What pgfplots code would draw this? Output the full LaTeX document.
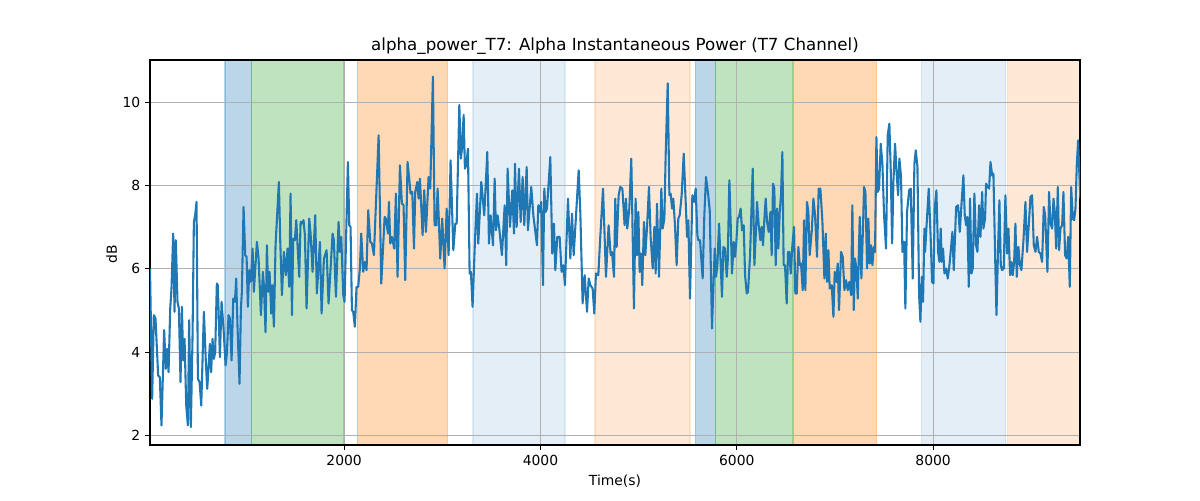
\documentclass[border=0pt]{standalone}
\usepackage{fontspec}
\setmainfont{DejaVu Sans}
\usepackage{pgfplots}
\pgfplotsset{compat=1.18}
\definecolor{tabblue}{HTML}{1F77B4}
\definecolor{taborange}{HTML}{FF7F0E}
\definecolor{tabgreen}{HTML}{2CA02C}
\definecolor{gridgray}{HTML}{B0B0B0}
\begin{document}
\begin{tikzpicture}
\path (0pt,0pt) rectangle (864pt,360pt);
\begin{axis}[
  at={(108pt,39.6pt)}, anchor=south west,
  scale only axis, width=669.6pt, height=277.2pt,
  xmin=22, xmax=9496, ymin=1.77, ymax=11.02,
  set layers,
  axis line style={black, line width=0.8pt},
  tick align=outside, tick pos=left,
  major tick length=3.5pt,
  every tick/.style={black, line width=0.8pt},
  grid=major, major grid style={gridgray, line width=0.8pt},
  xtick={2000,4000,6000,8000}, ytick={2,4,6,8,10},
  /pgf/number format/1000 sep={},
  /pgf/number format/assume math mode=true,
  tick label style={font=\fontsize{10}{12}\selectfont},
  title={alpha\_power\_T7: Alpha Instantaneous Power (T7 Channel)},
  every axis title/.style={at={(axis description cs:0.5,1.02345)}, anchor=base, font=\fontsize{12}{14.4}\selectfont},
  xlabel={Time(s)},
  every axis x label/.style={at={(axis description cs:0.5,-0.1039)}, anchor=base, font=\fontsize{10}{12}\selectfont},
  ylabel={dB},
  every axis y label/.style={at={(axis description cs:-0.0356,0.496)}, rotate=90, anchor=base, font=\fontsize{10}{12}\selectfont},
]
% shaded intervals
\addplot[on layer=axis background, fill=tabblue, fill opacity=0.3, draw=tabblue, draw opacity=0.3, line width=1pt] coordinates {(785,1.77) (1056,1.77) (1056,11.02) (785,11.02) (785,1.77)};
\addplot[on layer=axis background, fill=tabgreen, fill opacity=0.3, draw=tabgreen, draw opacity=0.3, line width=1pt] coordinates {(1056,1.77) (2000,1.77) (2000,11.02) (1056,11.02) (1056,1.77)};
\addplot[on layer=axis background, fill=taborange, fill opacity=0.3, draw=taborange, draw opacity=0.3, line width=1pt] coordinates {(2133,1.77) (3054,1.77) (3054,11.02) (2133,11.02) (2133,1.77)};
\addplot[on layer=axis background, fill=tabblue, fill opacity=0.12, draw=tabblue, draw opacity=0.12, line width=1pt] coordinates {(3312,1.77) (4249,1.77) (4249,11.02) (3312,11.02) (3312,1.77)};
\addplot[on layer=axis background, fill=taborange, fill opacity=0.17, draw=taborange, draw opacity=0.17, line width=1pt] coordinates {(4555,1.77) (5523,1.77) (5523,11.02) (4555,11.02) (4555,1.77)};
\addplot[on layer=axis background, fill=tabblue, fill opacity=0.3, draw=tabblue, draw opacity=0.3, line width=1pt] coordinates {(5577,1.77) (5781,1.77) (5781,11.02) (5577,11.02) (5577,1.77)};
\addplot[on layer=axis background, fill=tabgreen, fill opacity=0.3, draw=tabgreen, draw opacity=0.3, line width=1pt] coordinates {(5781,1.77) (6574,1.77) (6574,11.02) (5781,11.02) (5781,1.77)};
\addplot[on layer=axis background, fill=taborange, fill opacity=0.3, draw=taborange, draw opacity=0.3, line width=1pt] coordinates {(6578,1.77) (7425,1.77) (7425,11.02) (6578,11.02) (6578,1.77)};
\addplot[on layer=axis background, fill=tabblue, fill opacity=0.12, draw=tabblue, draw opacity=0.12, line width=1pt] coordinates {(7880,1.77) (8740,1.77) (8740,11.02) (7880,11.02) (7880,1.77)};
\addplot[on layer=axis background, fill=taborange, fill opacity=0.17, draw=taborange, draw opacity=0.17, line width=1pt] coordinates {(8757,1.77) (9496,1.77) (9496,11.02) (8757,11.02) (8757,1.77)};
% signal
\addplot[tabblue, line width=1.5pt, line join=round, mark=none] coordinates {
(22,6.01) (44,2.88) (61,4.89) (78,4.81) (105,3.44) (122,3.40) (139,2.24) (166,4.53) (183,3.60) (197,4.08) (211,3.52) (228,5.05) (241,5.53) (258,6.85) (272,4.97) (285,6.69) (302,5.21) (316,5.05) (333,3.28) (347,5.09) (360,3.80) (374,4.32) (391,2.72) (408,2.24) (421,4.77) (438,2.20) (455,4.32) (469,7.13) (482,7.29) (496,7.61) (510,3.36) (527,3.28) (544,2.72) (571,4.97) (591,3.76) (605,3.12) (632,4.20) (645,3.52) (659,4.32) (673,3.84) (686,4.00) (703,5.65) (713,5.61) (734,3.88) (751,5.21) (771,4.57) (792,3.68) (805,3.96) (822,4.89) (836,4.81) (853,3.80) (870,5.29) (887,5.21) (900,5.77) (914,4.57) (934,3.24) (948,5.05) (958,5.45) (975,7.49) (992,6.33) (1006,6.29) (1019,5.09) (1033,5.97) (1050,5.69) (1067,6.49) (1080,5.45) (1111,6.65) (1128,6.25) (1152,4.89) (1172,5.93) (1182,5.61) (1199,4.48) (1213,6.57) (1226,5.45) (1240,5.93) (1257,4.93) (1267,5.61) (1284,4.61) (1301,6.57) (1335,8.09) (1349,6.65) (1366,5.37) (1386,6.41) (1406,5.85) (1423,6.49) (1440,5.57) (1454,7.81) (1468,4.89) (1481,6.73) (1498,6.69) (1512,7.17) (1542,5.81) (1556,7.13) (1569,7.09) (1586,7.17) (1600,6.81)
(1617,5.05) (1644,7.21) (1658,6.85) (1678,5.93) (1705,7.29) (1722,5.41) (1753,6.65) (1770,4.93) (1794,6.25) (1821,6.45) (1841,5.17) (1882,6.85) (1895,6.69) (1916,5.33) (1943,7.13) (1957,6.41) (1970,6.77) (1991,5.37) (2004,5.21) (2038,8.57) (2052,7.05) (2065,7.01) (2079,5.01) (2092,4.97) (2109,4.61) (2126,5.57) (2143,5.57) (2160,6.01) (2174,6.85) (2194,5.93) (2211,6.17) (2228,5.97) (2245,7.41) (2266,6.65) (2283,6.61) (2303,6.33) (2351,9.21) (2378,5.65) (2412,7.25) (2425,7.21) (2446,6.85) (2456,7.61) (2470,6.61) (2487,6.77) (2510,6.49) (2527,7.81) (2544,5.81) (2568,8.49) (2588,7.57) (2605,7.53) (2622,5.73) (2646,8.57) (2677,7.81) (2694,7.85) (2711,6.49) (2724,7.85) (2745,8.09) (2758,7.69) (2772,8.17) (2799,6.81) (2816,7.89) (2833,6.89) (2860,8.21) (2877,7.93) (2904,10.62) (2921,7.05) (2938,7.05) (2952,7.93) (2979,6.25) (2999,7.21) (3023,6.01) (3044,7.45) (3064,6.33) (3084,8.61) (3112,6.45) (3132,7.09) (3146,7.09) (3173,9.94)
(3189,8.65) (3200,8.89) (3217,9.70) (3230,8.41) (3244,8.49) (3261,8.89) (3278,5.89) (3291,5.93) (3308,5.09) (3332,6.65) (3353,7.81) (3366,6.61) (3397,8.09) (3427,7.29) (3458,8.81) (3475,6.61) (3492,7.29) (3516,6.57) (3533,8.17) (3546,6.93) (3563,7.29) (3580,6.97) (3607,6.33) (3635,7.53) (3651,6.09) (3665,8.41) (3689,7.01) (3713,7.89) (3730,6.85) (3740,8.53) (3757,7.01) (3781,8.41) (3798,7.13) (3818,8.21) (3835,7.05) (3859,8.45) (3872,6.93) (3906,7.97) (3927,7.29) (3964,6.57) (3978,7.53) (3991,7.37) (4008,7.61) (4025,5.61) (4039,7.93) (4052,7.37) (4066,7.45) (4100,8.69) (4120,6.37) (4137,7.09) (4151,5.97) (4171,6.77) (4195,6.77) (4215,5.93) (4232,6.09) (4249,5.61) (4280,7.69) (4304,6.25) (4321,7.33) (4338,6.33) (4389,8.37) (4406,7.33) (4429,5.17) (4450,5.85) (4474,4.97) (4491,5.77) (4508,5.61) (4531,5.53) (4548,4.93) (4565,5.89) (4589,5.85) (4609,6.77) (4637,7.93) (4667,5.81) (4694,7.05) (4715,6.33) (4728,6.41) (4749,5.81)
(4762,7.69) (4776,6.53) (4796,7.77) (4813,7.97) (4834,7.93) (4857,7.05) (4871,7.69) (4884,6.97) (4905,7.45) (4925,8.65) (4939,6.81) (4952,5.05) (4969,7.69) (4983,6.33) (4997,7.37) (5010,5.93) (5024,6.37) (5037,5.61) (5054,7.13) (5068,6.33) (5088,7.13) (5105,7.97) (5122,6.77) (5143,6.01) (5160,7.01) (5173,5.89) (5187,7.57) (5207,5.81) (5231,7.93) (5245,6.97) (5262,7.21) (5275,8.73) (5296,10.46) (5313,7.77) (5326,7.81) (5340,7.45) (5353,7.69) (5370,7.05) (5387,6.09) (5404,7.21) (5418,7.29) (5438,7.77) (5459,8.77) (5479,7.61) (5493,6.77) (5506,7.17) (5523,5.29) (5547,7.77) (5564,7.61) (5581,7.93) (5598,6.81) (5608,6.69) (5625,6.69) (5652,5.77) (5669,7.29) (5686,8.21) (5707,7.81) (5724,7.41) (5747,4.57) (5775,6.49) (5788,5.81) (5802,6.09) (5819,7.09) (5832,6.33) (5849,5.33) (5863,6.53) (5880,6.49) (5897,5.81) (5907,6.17) (5924,8.13) (5938,7.05) (5951,5.89) (5968,6.65) (5982,6.29) (5995,6.65) (6009,7.21) (6022,7.25) (6039,7.45) (6053,6.93) (6070,7.05) (6084,5.85) (6101,5.41) (6114,5.45) (6135,6.33) (6162,8.41) (6179,6.09) (6196,6.97) (6206,7.61) (6223,7.05) (6240,6.69) (6253,7.01) (6267,6.57) (6281,7.21) (6294,7.69) (6308,7.13) (6325,6.89)
(6342,7.37) (6355,6.33) (6369,8.05) (6382,7.93) (6396,6.09) (6410,7.45) (6423,6.49) (6437,7.37) (6450,7.77) (6464,8.81) (6477,6.09) (6491,6.09) (6508,5.17) (6522,6.41) (6535,6.41) (6549,5.89) (6566,6.57) (6583,7.01) (6596,5.41) (6610,5.41) (6627,6.53) (6641,6.09) (6654,6.13) (6671,5.49) (6685,7.17) (6698,5.49) (6715,7.61) (6729,7.37) (6742,6.33) (6763,6.89) (6780,7.69) (6797,7.29) (6817,6.29) (6834,7.93) (6851,7.93) (6872,7.13) (6892,5.77) (6906,6.85) (6919,5.69) (6933,6.45) (6946,5.53) (6967,5.61) (6984,4.85) (6997,5.93) (7014,5.69) (7028,6.13) (7041,5.01) (7062,6.41) (7079,6.29) (7096,5.49) (7113,5.73) (7130,5.49) (7147,5.69) (7164,5.37) (7177,7.53) (7191,5.01) (7204,6.25) (7218,6.01) (7232,5.29) (7252,7.25) (7269,5.77) (7283,6.81) (7296,7.97) (7310,7.85) (7327,6.01) (7340,7.21) (7354,6.13) (7367,6.57) (7381,6.09) (7395,6.53) (7408,6.41) (7422,9.17) (7435,7.85) (7449,7.93) (7466,9.01) (7483,8.53) (7500,7.29) (7520,6.49) (7537,9.21) (7554,9.49) (7568,8.37) (7582,6.61) (7595,8.09) (7612,9.01) (7626,8.37) (7643,7.77) (7656,8.65) (7673,8.21) (7687,6.41) (7704,6.65) (7717,5.05) (7734,7.37) (7755,7.89) (7772,7.93) (7792,5.77) (7809,8.53) (7823,8.85) (7840,8.45) (7857,5.37) (7870,4.73) (7884,5.81) (7897,5.21) (7911,6.97)
(7918,6.41) (7931,6.97) (7955,7.93) (7975,6.73) (7989,5.69) (8003,5.65) (8016,7.45) (8033,7.89) (8050,6.41) (8064,6.17) (8077,6.97) (8088,6.17) (8101,6.49) (8115,5.89) (8132,6.01) (8149,5.77) (8166,6.09) (8183,6.53) (8196,6.89) (8210,5.97) (8234,7.49) (8254,7.53) (8271,6.89) (8288,7.53) (8308,8.25) (8322,7.29) (8336,7.05) (8349,7.25) (8363,5.57) (8376,7.69) (8390,5.89) (8403,6.01) (8420,7.81) (8437,6.57) (8451,6.41) (8468,7.53) (8482,6.77) (8499,7.85) (8512,6.97) (8529,7.21) (8539,8.05) (8556,7.97) (8570,7.93) (8584,8.57) (8601,8.25) (8614,8.29) (8634,6.01) (8645,4.89) (8662,6.57) (8675,7.65) (8689,6.09) (8702,5.97) (8719,6.01) (8736,7.77) (8753,6.37) (8767,6.97) (8784,5.85) (8798,6.17) (8811,5.85) (8825,6.17) (8838,7.09) (8852,5.81) (8869,6.53) (8882,6.13) (8899,5.97) (8920,6.69) (8940,7.61) (8957,6.41) (8974,7.05) (8991,7.73) (9008,7.77) (9025,6.57) (9042,6.41) (9059,6.77) (9076,6.41) (9093,6.37) (9110,6.17) (9127,7.49) (9141,7.29) (9164,5.93) (9181,7.85) (9195,7.09) (9212,6.97) (9226,7.69) (9239,7.37) (9253,6.49) (9270,7.97) (9283,6.45) (9297,6.97) (9314,7.05) (9327,7.85) (9344,6.33) (9361,6.25) (9375,6.77) (9392,5.57) (9406,7.97) (9423,7.21) (9436,7.17) (9450,7.45) (9463,8.49) (9477,9.09) (9491,8.17) (9500,7.69)
};
\end{axis}
\end{tikzpicture}
\end{document}
